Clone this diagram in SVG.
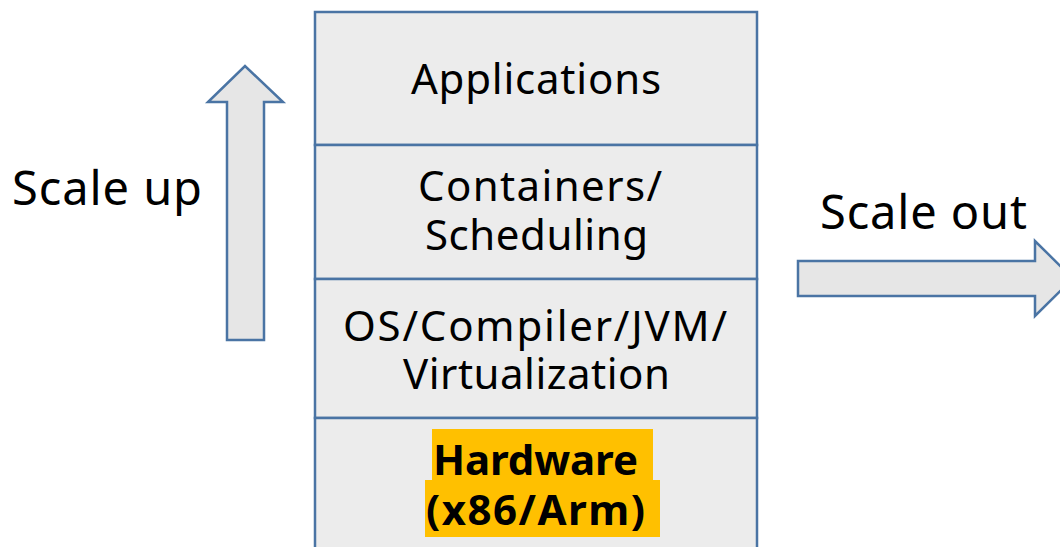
<svg xmlns="http://www.w3.org/2000/svg" width="1060" height="547" viewBox="0 0 1060 547">
<style>
.box{fill:#ececec;stroke:#4a74a4;stroke-width:2.5}
.arr{fill:#e6e6e6;stroke:#4a74a4;stroke-width:2.5}
.t{font-family:"Noto Sans","Open Sans",sans-serif;font-size:42px;fill:#000;text-anchor:middle}
.l{font-size:47px}
.b{font-weight:bold}
</style>
<rect width="1060" height="547" fill="#fff"/>
<g id="applications"><rect class="box" x="315" y="12" width="442" height="133"/><text class="t" x="536" y="94" textLength="250">Applications</text></g>
<g id="containers"><rect class="box" x="315" y="145" width="442" height="134"/><text class="t" x="540" y="201" textLength="244">Containers/</text><text class="t" x="536.5" y="250" textLength="223">Scheduling</text></g>
<g id="os"><rect class="box" x="315" y="279" width="442" height="139"/><text class="t" x="535" y="341" textLength="384">OS/Compiler/JVM/</text><text class="t" x="536.5" y="389" textLength="267">Virtualization</text></g>
<g id="hardware"><rect class="box" x="315" y="418" width="442" height="140"/>
<rect x="432" y="429" width="221" height="52" fill="#ffc000"/><rect x="425" y="480" width="235" height="57" fill="#ffc000"/>
<text class="t b" x="535.5" y="475" textLength="205">Hardware</text><text class="t b" x="535.5" y="525" textLength="219">(x86/Arm)</text></g>
<g id="connectors">
<path class="arr" d="M227,340 L227,102 L208,102 L245,66 L283,102 L264,102 L264,340 Z"/>
<path class="arr" d="M798,261 L1035,261 L1035,241 L1073,278.5 L1035,316 L1035,296 L798,296 Z"/>
</g>
<g id="labels"><text class="t l" x="107" y="205" textLength="190">Scale up</text><text class="t l" x="923.5" y="229" textLength="207">Scale out</text></g>
</svg>
